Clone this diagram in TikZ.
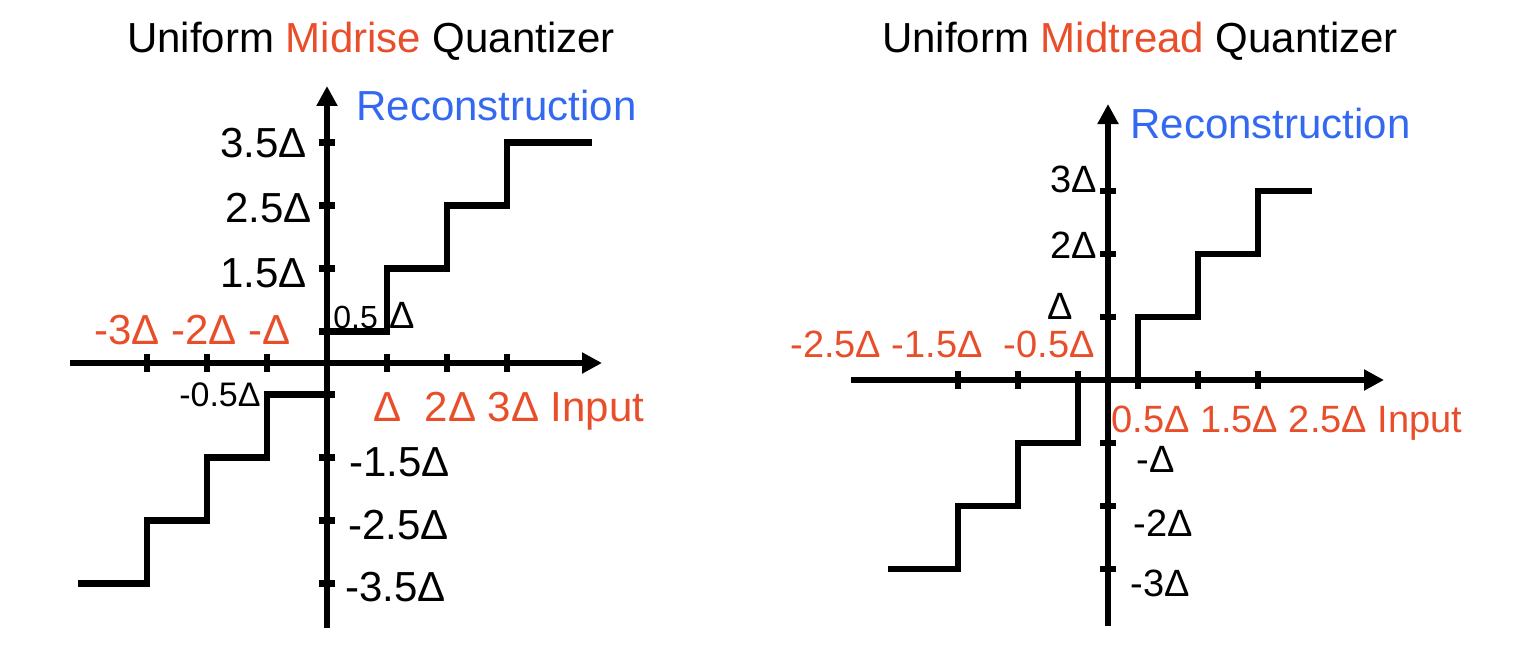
\documentclass[tikz,border=0pt]{standalone}
\usepackage{fontspec}
\setmainfont{Liberation Sans}
\usetikzlibrary{arrows.meta}
\definecolor{qred}{RGB}{233,78,43}
\definecolor{qblue}{RGB}{51,104,240}

\begin{document}
\begin{tikzpicture}[x=0.5pt, y=-0.5pt,
  axis/.style={line width=3.2pt, -{Triangle[length=10pt, width=10pt]}},
  stair/.style={line width=3.2pt},
  xtick/.style={fill, inner sep=0pt, minimum width=3.2pt, minimum height=9pt},
  ytick/.style={fill, inner sep=0pt, minimum width=8pt, minimum height=3.2pt},
  big/.style={inner sep=0pt, font=\fontsize{21}{25}\selectfont},
  small/.style={inner sep=0pt, font=\fontsize{19}{23}\selectfont}]

  \useasboundingbox (0,0) rectangle (1534,658);

  % Titles
  \node[big, anchor=base] (T1) at (371,53) {Uniform \textcolor{qred}{Midrise} Quantizer};
  \node[big, anchor=base] (T2) at (1140,53) {Uniform \textcolor{qred}{Midtread} Quantizer};

  % Left axes
  \coordinate (LX0) at (70,363);
  \coordinate (LX1) at (602,363);
  \coordinate (LY0) at (327,628);
  \coordinate (LY1) at (327,86);
  \draw[axis] (LX0) -- (LX1);
  \draw[axis] (LY0) -- (LY1);

  % Left ticks
  \node[xtick] (LA1) at (147,363) {};
  \node[xtick] (LA2) at (207,363) {};
  \node[xtick] (LA3) at (267,363) {};
  \node[xtick] (LA4) at (387,363) {};
  \node[xtick] (LA5) at (447,363) {};
  \node[xtick] (LA6) at (507,363) {};
  \node[ytick] (LB1) at (327,142.5) {};
  \node[ytick] (LB2) at (327,205.5) {};
  \node[ytick] (LB3) at (327,268.5) {};
  \node[ytick] (LB4) at (327,331.5) {};
  \node[ytick] (LB5) at (327,394.5) {};
  \node[ytick] (LB6) at (327,457.5) {};
  \node[ytick] (LB7) at (327,520.5) {};
  \node[ytick] (LB8) at (327,583.5) {};

  % Left steps
  \coordinate (LS0) at (78,583.5);
  \coordinate (LS1) at (147,520.5);
  \coordinate (LS2) at (207,457.5);
  \coordinate (LS3) at (267,394.5);
  \coordinate (LS4) at (327,394.5);
  \coordinate (LU0) at (327,331.5);
  \coordinate (LU1) at (387,268.5);
  \coordinate (LU2) at (447,205.5);
  \coordinate (LU3) at (507,142.5);
  \coordinate (LU4) at (592,142.5);
  \draw[stair] (LS0) -| (LS1) -| (LS2) -| (LS3) -- (LS4);
  \draw[stair] (LU0) -| (LU1) -| (LU2) -| (LU3) -- (LU4);

  % Left labels
  \node[big, anchor=base west, text=qblue] (LR) at (356,120) {Reconstruction};
  \node[big, anchor=base east] (LV1) at (307,157) {3.5Δ};
  \node[big, anchor=base east] (LV2) at (312,222) {2.5Δ};
  \node[big, anchor=base east] (LV3) at (307,287) {1.5Δ};
  \node[inner sep=0pt, anchor=base west, font=\fontsize{19}{23}\selectfont] (LV4) at (333,328)
    {{\fontsize{16}{19}\selectfont 0.5}\hspace{6pt}Δ};
  \node[inner sep=0pt, anchor=base east, font=\fontsize{17}{20}\selectfont] (LV5) at (261,406) {-0.5Δ};
  \node[big, anchor=base west] (LV6) at (349,476) {-1.5Δ};
  \node[big, anchor=base west] (LV7) at (348,539) {-2.5Δ};
  \node[big, anchor=base west] (LV8) at (345,601) {-3.5Δ};
  \node[big, anchor=base west, text=qred] (LN) at (94,344) {-3Δ -2Δ -Δ};
  \node[big, anchor=base west, text=qred] (LP) at (373,421) {Δ\ \ 2Δ 3Δ Input};

  % Right axes
  \coordinate (RX0) at (851,380);
  \coordinate (RX1) at (1384,380);
  \coordinate (RY0) at (1108,626);
  \coordinate (RY1) at (1108,104);
  \draw[axis] (RX0) -- (RX1);
  \draw[axis] (RY0) -- (RY1);

  % Right ticks
  \node[xtick] (RA1) at (958,380) {};
  \node[xtick] (RA2) at (1018,380) {};
  \node[xtick] (RA3) at (1078,380) {};
  \node[xtick] (RA4) at (1138,380) {};
  \node[xtick] (RA5) at (1198,380) {};
  \node[xtick] (RA6) at (1258,380) {};
  \node[ytick] (RB1) at (1108,191) {};
  \node[ytick] (RB2) at (1108,254) {};
  \node[ytick] (RB3) at (1108,317) {};
  \node[ytick] (RB4) at (1108,443) {};
  \node[ytick] (RB5) at (1108,506) {};
  \node[ytick] (RB6) at (1108,569) {};

  % Right steps
  \coordinate (RS0) at (888,569);
  \coordinate (RS1) at (958,506);
  \coordinate (RS2) at (1018,443);
  \coordinate (RS3) at (1078,380);
  \coordinate (RS4) at (1138,317);
  \coordinate (RS5) at (1198,254);
  \coordinate (RS6) at (1258,191);
  \coordinate (RS7) at (1312,191);
  \draw[stair] (RS0) -| (RS1) -| (RS2) -| (RS3) -| (RS4) -| (RS5) -| (RS6) -- (RS7);

  % Right labels
  \node[big, anchor=base west, text=qblue] (RR) at (1130,138) {Reconstruction};
  \node[small, anchor=base east] (RV1) at (1097,192) {3Δ};
  \node[small, anchor=base east] (RV2) at (1097,258) {2Δ};
  \node[small, anchor=base east] (RV3) at (1073,319) {Δ};
  \node[small, anchor=base west] (RV4) at (1136,472) {-Δ};
  \node[small, anchor=base west] (RV5) at (1133,536) {-2Δ};
  \node[small, anchor=base west] (RV6) at (1130,596) {-3Δ};
  \node[small, anchor=base west, text=qred] (RN) at (790,357) {-2.5Δ -1.5Δ\ \ -0.5Δ};
  \node[small, anchor=base west, text=qred] (RP) at (1111,432) {0.5Δ 1.5Δ 2.5Δ Input};

\end{tikzpicture}
\end{document}
